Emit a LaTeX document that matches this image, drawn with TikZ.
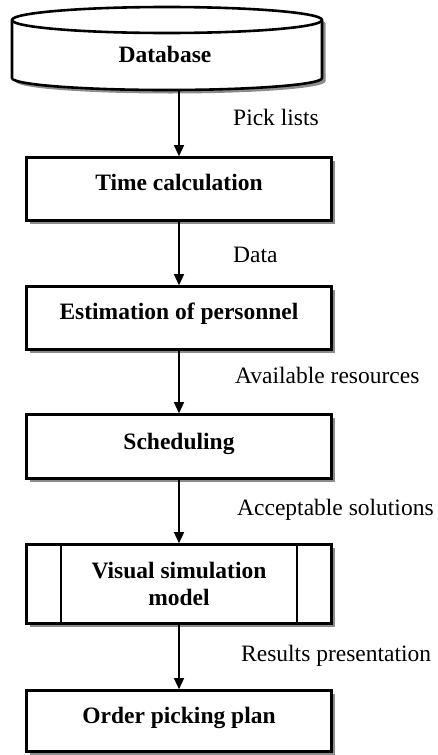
\documentclass[tikz,border=0pt]{standalone}
\usepackage{fontspec}
\setmainfont{Liberation Serif}
\usetikzlibrary{arrows.meta,shadows}
\begin{document}
\begin{tikzpicture}[x=1pt,y=-1pt,
  stepbox/.style={draw=black, line width=2.6pt, fill=white, minimum width=305pt,
    inner sep=0pt,
    drop shadow={shadow xshift=3.5pt, shadow yshift=-3.5pt, fill=black!45, opacity=1}},
  boxtext/.style={font=\fontsize{23.5}{27}\selectfont\bfseries, anchor=base, inner sep=0pt},
  flowlabel/.style={font=\fontsize{23.5}{27}\selectfont, anchor=base west, inner sep=0pt},
  flow/.style={line width=1.3pt, -{Triangle[length=11pt,width=10pt]}}]
\useasboundingbox (0,0) rectangle (438,755);

% database cylinder: shadow, body, front rim of the top face
\node[inner sep=0pt, minimum width=310pt, minimum height=83pt] (db) at (167,48.5) {};
\fill[black!45] (15.5,23.5) -- (15.5,81.5)
  arc[start angle=180, end angle=0, x radius=155, y radius=12] -- (325.5,23.5)
  arc[start angle=0, end angle=-180, x radius=155, y radius=13] -- cycle;
\draw[line width=2.6pt, fill=white] (12,20) -- (12,78)
  arc[start angle=180, end angle=0, x radius=155, y radius=12] -- (322,20)
  arc[start angle=0, end angle=-180, x radius=155, y radius=13] -- cycle;
\draw[line width=2.6pt] (12,20) arc[start angle=180, end angle=0, x radius=155, y radius=13];
\node[boxtext] (dbtext) at (165,62) {Database};

% process boxes
\node[stepbox, minimum height=63pt] (tc) at (179,189) {};
\node[boxtext] (tctext) at (179,190) {Time calculation};

\node[stepbox, minimum height=63pt] (est) at (179,318) {};
\node[boxtext] (esttext) at (179,319) {Estimation of personnel};

\node[stepbox, minimum height=64pt] (sch) at (179,446.5) {};
\node[boxtext] (schtext) at (179,449) {Scheduling};

\node[stepbox, minimum height=79pt] (vis) at (179,584) {};
\draw[line width=2.2pt] ([xshift=35.7pt]vis.north west) -- ([xshift=35.7pt]vis.south west);
\draw[line width=2.2pt] ([xshift=-35.7pt]vis.north east) -- ([xshift=-35.7pt]vis.south east);
\node[boxtext, anchor=center, align=center] (vistext) at (179,583.5) {Visual simulation\\model};

\node[stepbox, minimum height=61pt] (opp) at (179,721) {};
\node[boxtext] (opptext) at (179,723) {Order picking plan};

% connectors
\draw[flow] (db.south -| tc.north) -- (tc.north);
\draw[flow] (tc.south) -- (est.north);
\draw[flow] (est.south) -- (sch.north);
\draw[flow] (sch.south) -- (vis.north);
\draw[flow] (vis.south) -- (opp.north);

% connector labels
\node[flowlabel] (l1) at (233,125) {Pick lists};
\node[flowlabel] (l2) at (233,262) {Data};
\node[flowlabel] (l3) at (235,383) {Available resources};
\node[flowlabel] (l4) at (237,515) {Acceptable solutions};
\node[flowlabel] (l5) at (241,661) {Results presentation};
\end{tikzpicture}
\end{document}
